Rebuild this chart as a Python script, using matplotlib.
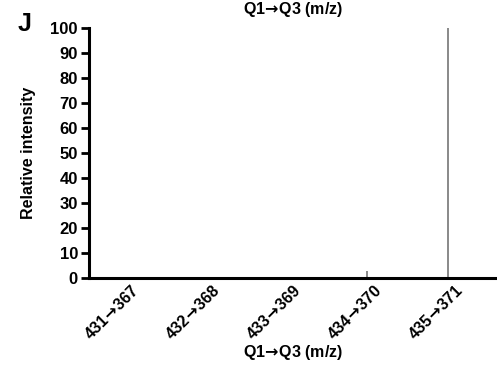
import matplotlib.pyplot as plt
import matplotlib.transforms as mtransforms

# MRM transitions and relative intensities
arrow = '$\\!\\rightarrow\\!$'
transitions = ['431' + arrow + '367', '432' + arrow + '368', '433' + arrow + '369',
               '434' + arrow + '370', '435' + arrow + '371']
intensity = [0, 0, 0, 3, 100]
y_ticks = [0, 10, 20, 30, 40, 50, 60, 70, 80, 90, 100]

plt.rcParams['font.family'] = ['Liberation Sans', 'DejaVu Sans']
plt.rcParams['font.weight'] = 'bold'
plt.rcParams['mathtext.default'] = 'bf'

fig = plt.figure(figsize=(4.97, 3.66), dpi=100)
ax = fig.add_axes([89 / 497, 1 - 278 / 366, 1 - 89 / 497, 250 / 366])

x = list(range(len(transitions)))
ax.vlines(x, 0, intensity, color='#808080', linewidth=1.3)

ax.set_xlim(-0.43, 4.6)
ax.set_ylim(0, 100)
ax.set_yticks(y_ticks)
ax.set_xticks(x)
ax.set_xticklabels(transitions)
ax.tick_params(axis='y', direction='out', length=6, width=2, labelsize=12, pad=2)
ax.tick_params(axis='x', length=0, pad=3, labelsize=11.5)

offset = mtransforms.ScaledTranslation(6 / 100, 0, fig.dpi_scale_trans)
for lbl in ax.get_xticklabels():
    lbl.set_rotation(45)
    lbl.set_ha('right')
    lbl.set_va('top')
    lbl.set_rotation_mode('anchor')
    lbl.set_fontweight('bold')
    lbl.set_transform(lbl.get_transform() + offset)
for lbl in ax.get_yticklabels():
    lbl.set_fontweight('bold')

for side in ['top', 'right']:
    ax.spines[side].set_visible(False)
ax.spines['left'].set_linewidth(2.2)
ax.spines['bottom'].set_linewidth(2.2)

ax.set_xlabel('Q1' + arrow + 'Q3 (m/z)', fontsize=11.5, fontweight='bold', va='center')
ax.xaxis.set_label_coords(0.5, -75 / 250)
ax.set_ylabel('Relative intensity', fontsize=11.5, fontweight='bold', labelpad=10)
ax.set_title('Q1' + arrow + 'Q3 (m/z)', fontsize=11.5, fontweight='bold', pad=10)
fig.text(25 / 497, 1 - 24 / 366, 'J', fontsize=18, fontweight='bold', ha='center', va='center')

fig.savefig('out.png', dpi=100)
